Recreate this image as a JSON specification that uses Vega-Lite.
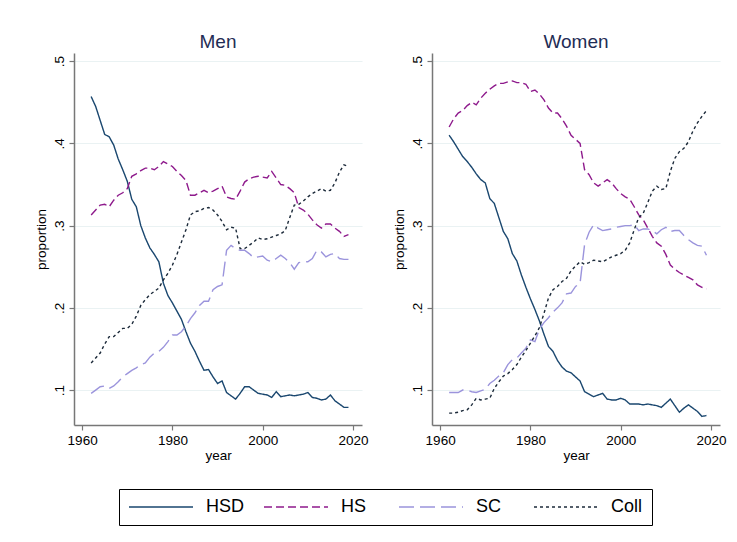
{
"$schema": "https://vega.github.io/schema/vega-lite/v6.json",
"background": "white",
"padding": {"left": 34, "top": 33, "right": 5, "bottom": 5},
"datasets": {"d": [
{"sex":"Men","edu":"HSD","year":1962,"p":0.457},{"sex":"Men","edu":"HSD","year":1963,"p":0.445},{"sex":"Men","edu":"HSD","year":1964,"p":0.428},{"sex":"Men","edu":"HSD","year":1965,"p":0.411},{"sex":"Men","edu":"HSD","year":1966,"p":0.408},{"sex":"Men","edu":"HSD","year":1967,"p":0.398},{"sex":"Men","edu":"HSD","year":1968,"p":0.381},{"sex":"Men","edu":"HSD","year":1969,"p":0.368},{"sex":"Men","edu":"HSD","year":1970,"p":0.354},{"sex":"Men","edu":"HSD","year":1971,"p":0.332},{"sex":"Men","edu":"HSD","year":1972,"p":0.323},{"sex":"Men","edu":"HSD","year":1973,"p":0.300},{"sex":"Men","edu":"HSD","year":1974,"p":0.285},{"sex":"Men","edu":"HSD","year":1975,"p":0.273},{"sex":"Men","edu":"HSD","year":1976,"p":0.265},{"sex":"Men","edu":"HSD","year":1977,"p":0.256},{"sex":"Men","edu":"HSD","year":1978,"p":0.230},{"sex":"Men","edu":"HSD","year":1979,"p":0.215},{"sex":"Men","edu":"HSD","year":1980,"p":0.206},{"sex":"Men","edu":"HSD","year":1981,"p":0.196},{"sex":"Men","edu":"HSD","year":1982,"p":0.186},{"sex":"Men","edu":"HSD","year":1983,"p":0.171},{"sex":"Men","edu":"HSD","year":1984,"p":0.157},{"sex":"Men","edu":"HSD","year":1985,"p":0.147},{"sex":"Men","edu":"HSD","year":1986,"p":0.135},{"sex":"Men","edu":"HSD","year":1987,"p":0.124},{"sex":"Men","edu":"HSD","year":1988,"p":0.125},{"sex":"Men","edu":"HSD","year":1989,"p":0.116},{"sex":"Men","edu":"HSD","year":1990,"p":0.108},{"sex":"Men","edu":"HSD","year":1991,"p":0.111},{"sex":"Men","edu":"HSD","year":1992,"p":0.097},{"sex":"Men","edu":"HSD","year":1993,"p":0.093},{"sex":"Men","edu":"HSD","year":1994,"p":0.089},{"sex":"Men","edu":"HSD","year":1995,"p":0.096},{"sex":"Men","edu":"HSD","year":1996,"p":0.104},{"sex":"Men","edu":"HSD","year":1997,"p":0.104},{"sex":"Men","edu":"HSD","year":1998,"p":0.100},{"sex":"Men","edu":"HSD","year":1999,"p":0.096},{"sex":"Men","edu":"HSD","year":2000,"p":0.095},{"sex":"Men","edu":"HSD","year":2001,"p":0.094},{"sex":"Men","edu":"HSD","year":2002,"p":0.091},{"sex":"Men","edu":"HSD","year":2003,"p":0.098},{"sex":"Men","edu":"HSD","year":2004,"p":0.092},{"sex":"Men","edu":"HSD","year":2005,"p":0.093},{"sex":"Men","edu":"HSD","year":2006,"p":0.094},{"sex":"Men","edu":"HSD","year":2007,"p":0.093},{"sex":"Men","edu":"HSD","year":2008,"p":0.094},{"sex":"Men","edu":"HSD","year":2009,"p":0.095},{"sex":"Men","edu":"HSD","year":2010,"p":0.097},{"sex":"Men","edu":"HSD","year":2011,"p":0.091},{"sex":"Men","edu":"HSD","year":2012,"p":0.090},{"sex":"Men","edu":"HSD","year":2013,"p":0.088},{"sex":"Men","edu":"HSD","year":2014,"p":0.089},{"sex":"Men","edu":"HSD","year":2015,"p":0.094},{"sex":"Men","edu":"HSD","year":2016,"p":0.087},{"sex":"Men","edu":"HSD","year":2017,"p":0.083},{"sex":"Men","edu":"HSD","year":2018,"p":0.079},{"sex":"Men","edu":"HSD","year":2019,"p":0.079},
{"sex":"Men","edu":"HS","year":1962,"p":0.313},{"sex":"Men","edu":"HS","year":1963,"p":0.319},{"sex":"Men","edu":"HS","year":1964,"p":0.325},{"sex":"Men","edu":"HS","year":1965,"p":0.326},{"sex":"Men","edu":"HS","year":1966,"p":0.323},{"sex":"Men","edu":"HS","year":1967,"p":0.331},{"sex":"Men","edu":"HS","year":1968,"p":0.337},{"sex":"Men","edu":"HS","year":1969,"p":0.340},{"sex":"Men","edu":"HS","year":1970,"p":0.345},{"sex":"Men","edu":"HS","year":1971,"p":0.360},{"sex":"Men","edu":"HS","year":1972,"p":0.363},{"sex":"Men","edu":"HS","year":1973,"p":0.367},{"sex":"Men","edu":"HS","year":1974,"p":0.370},{"sex":"Men","edu":"HS","year":1975,"p":0.370},{"sex":"Men","edu":"HS","year":1976,"p":0.368},{"sex":"Men","edu":"HS","year":1977,"p":0.372},{"sex":"Men","edu":"HS","year":1978,"p":0.378},{"sex":"Men","edu":"HS","year":1979,"p":0.375},{"sex":"Men","edu":"HS","year":1980,"p":0.372},{"sex":"Men","edu":"HS","year":1981,"p":0.366},{"sex":"Men","edu":"HS","year":1982,"p":0.361},{"sex":"Men","edu":"HS","year":1983,"p":0.355},{"sex":"Men","edu":"HS","year":1984,"p":0.337},{"sex":"Men","edu":"HS","year":1985,"p":0.337},{"sex":"Men","edu":"HS","year":1986,"p":0.340},{"sex":"Men","edu":"HS","year":1987,"p":0.343},{"sex":"Men","edu":"HS","year":1988,"p":0.340},{"sex":"Men","edu":"HS","year":1989,"p":0.342},{"sex":"Men","edu":"HS","year":1990,"p":0.345},{"sex":"Men","edu":"HS","year":1991,"p":0.348},{"sex":"Men","edu":"HS","year":1992,"p":0.335},{"sex":"Men","edu":"HS","year":1993,"p":0.333},{"sex":"Men","edu":"HS","year":1994,"p":0.332},{"sex":"Men","edu":"HS","year":1995,"p":0.342},{"sex":"Men","edu":"HS","year":1996,"p":0.353},{"sex":"Men","edu":"HS","year":1997,"p":0.357},{"sex":"Men","edu":"HS","year":1998,"p":0.359},{"sex":"Men","edu":"HS","year":1999,"p":0.360},{"sex":"Men","edu":"HS","year":2000,"p":0.359},{"sex":"Men","edu":"HS","year":2001,"p":0.358},{"sex":"Men","edu":"HS","year":2002,"p":0.366},{"sex":"Men","edu":"HS","year":2003,"p":0.358},{"sex":"Men","edu":"HS","year":2004,"p":0.350},{"sex":"Men","edu":"HS","year":2005,"p":0.349},{"sex":"Men","edu":"HS","year":2006,"p":0.345},{"sex":"Men","edu":"HS","year":2007,"p":0.340},{"sex":"Men","edu":"HS","year":2008,"p":0.322},{"sex":"Men","edu":"HS","year":2009,"p":0.319},{"sex":"Men","edu":"HS","year":2010,"p":0.314},{"sex":"Men","edu":"HS","year":2011,"p":0.307},{"sex":"Men","edu":"HS","year":2012,"p":0.301},{"sex":"Men","edu":"HS","year":2013,"p":0.297},{"sex":"Men","edu":"HS","year":2014,"p":0.302},{"sex":"Men","edu":"HS","year":2015,"p":0.302},{"sex":"Men","edu":"HS","year":2016,"p":0.297},{"sex":"Men","edu":"HS","year":2017,"p":0.293},{"sex":"Men","edu":"HS","year":2018,"p":0.287},{"sex":"Men","edu":"HS","year":2019,"p":0.289},
{"sex":"Men","edu":"SC","year":1962,"p":0.096},{"sex":"Men","edu":"SC","year":1963,"p":0.100},{"sex":"Men","edu":"SC","year":1964,"p":0.104},{"sex":"Men","edu":"SC","year":1965,"p":0.105},{"sex":"Men","edu":"SC","year":1966,"p":0.102},{"sex":"Men","edu":"SC","year":1967,"p":0.105},{"sex":"Men","edu":"SC","year":1968,"p":0.110},{"sex":"Men","edu":"SC","year":1969,"p":0.116},{"sex":"Men","edu":"SC","year":1970,"p":0.120},{"sex":"Men","edu":"SC","year":1971,"p":0.124},{"sex":"Men","edu":"SC","year":1972,"p":0.127},{"sex":"Men","edu":"SC","year":1973,"p":0.131},{"sex":"Men","edu":"SC","year":1974,"p":0.133},{"sex":"Men","edu":"SC","year":1975,"p":0.140},{"sex":"Men","edu":"SC","year":1976,"p":0.145},{"sex":"Men","edu":"SC","year":1977,"p":0.147},{"sex":"Men","edu":"SC","year":1978,"p":0.152},{"sex":"Men","edu":"SC","year":1979,"p":0.159},{"sex":"Men","edu":"SC","year":1980,"p":0.167},{"sex":"Men","edu":"SC","year":1981,"p":0.167},{"sex":"Men","edu":"SC","year":1982,"p":0.171},{"sex":"Men","edu":"SC","year":1983,"p":0.178},{"sex":"Men","edu":"SC","year":1984,"p":0.187},{"sex":"Men","edu":"SC","year":1985,"p":0.194},{"sex":"Men","edu":"SC","year":1986,"p":0.203},{"sex":"Men","edu":"SC","year":1987,"p":0.208},{"sex":"Men","edu":"SC","year":1988,"p":0.208},{"sex":"Men","edu":"SC","year":1989,"p":0.222},{"sex":"Men","edu":"SC","year":1990,"p":0.226},{"sex":"Men","edu":"SC","year":1991,"p":0.228},{"sex":"Men","edu":"SC","year":1992,"p":0.270},{"sex":"Men","edu":"SC","year":1993,"p":0.276},{"sex":"Men","edu":"SC","year":1994,"p":0.272},{"sex":"Men","edu":"SC","year":1995,"p":0.270},{"sex":"Men","edu":"SC","year":1996,"p":0.270},{"sex":"Men","edu":"SC","year":1997,"p":0.266},{"sex":"Men","edu":"SC","year":1998,"p":0.261},{"sex":"Men","edu":"SC","year":1999,"p":0.262},{"sex":"Men","edu":"SC","year":2000,"p":0.263},{"sex":"Men","edu":"SC","year":2001,"p":0.258},{"sex":"Men","edu":"SC","year":2002,"p":0.256},{"sex":"Men","edu":"SC","year":2003,"p":0.260},{"sex":"Men","edu":"SC","year":2004,"p":0.264},{"sex":"Men","edu":"SC","year":2005,"p":0.260},{"sex":"Men","edu":"SC","year":2006,"p":0.255},{"sex":"Men","edu":"SC","year":2007,"p":0.247},{"sex":"Men","edu":"SC","year":2008,"p":0.255},{"sex":"Men","edu":"SC","year":2009,"p":0.256},{"sex":"Men","edu":"SC","year":2010,"p":0.256},{"sex":"Men","edu":"SC","year":2011,"p":0.260},{"sex":"Men","edu":"SC","year":2012,"p":0.270},{"sex":"Men","edu":"SC","year":2013,"p":0.268},{"sex":"Men","edu":"SC","year":2014,"p":0.262},{"sex":"Men","edu":"SC","year":2015,"p":0.265},{"sex":"Men","edu":"SC","year":2016,"p":0.266},{"sex":"Men","edu":"SC","year":2017,"p":0.260},{"sex":"Men","edu":"SC","year":2018,"p":0.259},{"sex":"Men","edu":"SC","year":2019,"p":0.259},
{"sex":"Men","edu":"Coll","year":1962,"p":0.133},{"sex":"Men","edu":"Coll","year":1963,"p":0.139},{"sex":"Men","edu":"Coll","year":1964,"p":0.145},{"sex":"Men","edu":"Coll","year":1965,"p":0.156},{"sex":"Men","edu":"Coll","year":1966,"p":0.165},{"sex":"Men","edu":"Coll","year":1967,"p":0.165},{"sex":"Men","edu":"Coll","year":1968,"p":0.170},{"sex":"Men","edu":"Coll","year":1969,"p":0.175},{"sex":"Men","edu":"Coll","year":1970,"p":0.175},{"sex":"Men","edu":"Coll","year":1971,"p":0.180},{"sex":"Men","edu":"Coll","year":1972,"p":0.190},{"sex":"Men","edu":"Coll","year":1973,"p":0.203},{"sex":"Men","edu":"Coll","year":1974,"p":0.210},{"sex":"Men","edu":"Coll","year":1975,"p":0.216},{"sex":"Men","edu":"Coll","year":1976,"p":0.220},{"sex":"Men","edu":"Coll","year":1977,"p":0.224},{"sex":"Men","edu":"Coll","year":1978,"p":0.234},{"sex":"Men","edu":"Coll","year":1979,"p":0.242},{"sex":"Men","edu":"Coll","year":1980,"p":0.252},{"sex":"Men","edu":"Coll","year":1981,"p":0.265},{"sex":"Men","edu":"Coll","year":1982,"p":0.280},{"sex":"Men","edu":"Coll","year":1983,"p":0.295},{"sex":"Men","edu":"Coll","year":1984,"p":0.313},{"sex":"Men","edu":"Coll","year":1985,"p":0.317},{"sex":"Men","edu":"Coll","year":1986,"p":0.318},{"sex":"Men","edu":"Coll","year":1987,"p":0.321},{"sex":"Men","edu":"Coll","year":1988,"p":0.322},{"sex":"Men","edu":"Coll","year":1989,"p":0.319},{"sex":"Men","edu":"Coll","year":1990,"p":0.313},{"sex":"Men","edu":"Coll","year":1991,"p":0.305},{"sex":"Men","edu":"Coll","year":1992,"p":0.295},{"sex":"Men","edu":"Coll","year":1993,"p":0.298},{"sex":"Men","edu":"Coll","year":1994,"p":0.297},{"sex":"Men","edu":"Coll","year":1995,"p":0.272},{"sex":"Men","edu":"Coll","year":1996,"p":0.272},{"sex":"Men","edu":"Coll","year":1997,"p":0.276},{"sex":"Men","edu":"Coll","year":1998,"p":0.280},{"sex":"Men","edu":"Coll","year":1999,"p":0.285},{"sex":"Men","edu":"Coll","year":2000,"p":0.283},{"sex":"Men","edu":"Coll","year":2001,"p":0.284},{"sex":"Men","edu":"Coll","year":2002,"p":0.286},{"sex":"Men","edu":"Coll","year":2003,"p":0.288},{"sex":"Men","edu":"Coll","year":2004,"p":0.290},{"sex":"Men","edu":"Coll","year":2005,"p":0.294},{"sex":"Men","edu":"Coll","year":2006,"p":0.310},{"sex":"Men","edu":"Coll","year":2007,"p":0.325},{"sex":"Men","edu":"Coll","year":2008,"p":0.326},{"sex":"Men","edu":"Coll","year":2009,"p":0.330},{"sex":"Men","edu":"Coll","year":2010,"p":0.335},{"sex":"Men","edu":"Coll","year":2011,"p":0.339},{"sex":"Men","edu":"Coll","year":2012,"p":0.342},{"sex":"Men","edu":"Coll","year":2013,"p":0.345},{"sex":"Men","edu":"Coll","year":2014,"p":0.342},{"sex":"Men","edu":"Coll","year":2015,"p":0.343},{"sex":"Men","edu":"Coll","year":2016,"p":0.352},{"sex":"Men","edu":"Coll","year":2017,"p":0.365},{"sex":"Men","edu":"Coll","year":2018,"p":0.374},{"sex":"Men","edu":"Coll","year":2019,"p":0.372},
{"sex":"Women","edu":"HSD","year":1962,"p":0.410},{"sex":"Women","edu":"HSD","year":1963,"p":0.402},{"sex":"Women","edu":"HSD","year":1964,"p":0.393},{"sex":"Women","edu":"HSD","year":1965,"p":0.384},{"sex":"Women","edu":"HSD","year":1966,"p":0.378},{"sex":"Women","edu":"HSD","year":1967,"p":0.371},{"sex":"Women","edu":"HSD","year":1968,"p":0.363},{"sex":"Women","edu":"HSD","year":1969,"p":0.356},{"sex":"Women","edu":"HSD","year":1970,"p":0.352},{"sex":"Women","edu":"HSD","year":1971,"p":0.333},{"sex":"Women","edu":"HSD","year":1972,"p":0.327},{"sex":"Women","edu":"HSD","year":1973,"p":0.310},{"sex":"Women","edu":"HSD","year":1974,"p":0.293},{"sex":"Women","edu":"HSD","year":1975,"p":0.284},{"sex":"Women","edu":"HSD","year":1976,"p":0.266},{"sex":"Women","edu":"HSD","year":1977,"p":0.257},{"sex":"Women","edu":"HSD","year":1978,"p":0.240},{"sex":"Women","edu":"HSD","year":1979,"p":0.225},{"sex":"Women","edu":"HSD","year":1980,"p":0.211},{"sex":"Women","edu":"HSD","year":1981,"p":0.198},{"sex":"Women","edu":"HSD","year":1982,"p":0.184},{"sex":"Women","edu":"HSD","year":1983,"p":0.168},{"sex":"Women","edu":"HSD","year":1984,"p":0.153},{"sex":"Women","edu":"HSD","year":1985,"p":0.147},{"sex":"Women","edu":"HSD","year":1986,"p":0.136},{"sex":"Women","edu":"HSD","year":1987,"p":0.128},{"sex":"Women","edu":"HSD","year":1988,"p":0.123},{"sex":"Women","edu":"HSD","year":1989,"p":0.121},{"sex":"Women","edu":"HSD","year":1990,"p":0.116},{"sex":"Women","edu":"HSD","year":1991,"p":0.111},{"sex":"Women","edu":"HSD","year":1992,"p":0.098},{"sex":"Women","edu":"HSD","year":1993,"p":0.095},{"sex":"Women","edu":"HSD","year":1994,"p":0.092},{"sex":"Women","edu":"HSD","year":1995,"p":0.094},{"sex":"Women","edu":"HSD","year":1996,"p":0.096},{"sex":"Women","edu":"HSD","year":1997,"p":0.089},{"sex":"Women","edu":"HSD","year":1998,"p":0.088},{"sex":"Women","edu":"HSD","year":1999,"p":0.088},{"sex":"Women","edu":"HSD","year":2000,"p":0.090},{"sex":"Women","edu":"HSD","year":2001,"p":0.088},{"sex":"Women","edu":"HSD","year":2002,"p":0.083},{"sex":"Women","edu":"HSD","year":2003,"p":0.083},{"sex":"Women","edu":"HSD","year":2004,"p":0.083},{"sex":"Women","edu":"HSD","year":2005,"p":0.082},{"sex":"Women","edu":"HSD","year":2006,"p":0.083},{"sex":"Women","edu":"HSD","year":2007,"p":0.082},{"sex":"Women","edu":"HSD","year":2008,"p":0.081},{"sex":"Women","edu":"HSD","year":2009,"p":0.079},{"sex":"Women","edu":"HSD","year":2010,"p":0.084},{"sex":"Women","edu":"HSD","year":2011,"p":0.089},{"sex":"Women","edu":"HSD","year":2012,"p":0.081},{"sex":"Women","edu":"HSD","year":2013,"p":0.073},{"sex":"Women","edu":"HSD","year":2014,"p":0.078},{"sex":"Women","edu":"HSD","year":2015,"p":0.082},{"sex":"Women","edu":"HSD","year":2016,"p":0.078},{"sex":"Women","edu":"HSD","year":2017,"p":0.074},{"sex":"Women","edu":"HSD","year":2018,"p":0.068},{"sex":"Women","edu":"HSD","year":2019,"p":0.069},
{"sex":"Women","edu":"HS","year":1962,"p":0.420},{"sex":"Women","edu":"HS","year":1963,"p":0.430},{"sex":"Women","edu":"HS","year":1964,"p":0.437},{"sex":"Women","edu":"HS","year":1965,"p":0.440},{"sex":"Women","edu":"HS","year":1966,"p":0.446},{"sex":"Women","edu":"HS","year":1967,"p":0.450},{"sex":"Women","edu":"HS","year":1968,"p":0.447},{"sex":"Women","edu":"HS","year":1969,"p":0.455},{"sex":"Women","edu":"HS","year":1970,"p":0.461},{"sex":"Women","edu":"HS","year":1971,"p":0.466},{"sex":"Women","edu":"HS","year":1972,"p":0.470},{"sex":"Women","edu":"HS","year":1973,"p":0.473},{"sex":"Women","edu":"HS","year":1974,"p":0.473},{"sex":"Women","edu":"HS","year":1975,"p":0.475},{"sex":"Women","edu":"HS","year":1976,"p":0.476},{"sex":"Women","edu":"HS","year":1977,"p":0.474},{"sex":"Women","edu":"HS","year":1978,"p":0.474},{"sex":"Women","edu":"HS","year":1979,"p":0.472},{"sex":"Women","edu":"HS","year":1980,"p":0.463},{"sex":"Women","edu":"HS","year":1981,"p":0.465},{"sex":"Women","edu":"HS","year":1982,"p":0.460},{"sex":"Women","edu":"HS","year":1983,"p":0.453},{"sex":"Women","edu":"HS","year":1984,"p":0.443},{"sex":"Women","edu":"HS","year":1985,"p":0.437},{"sex":"Women","edu":"HS","year":1986,"p":0.437},{"sex":"Women","edu":"HS","year":1987,"p":0.430},{"sex":"Women","edu":"HS","year":1988,"p":0.421},{"sex":"Women","edu":"HS","year":1989,"p":0.410},{"sex":"Women","edu":"HS","year":1990,"p":0.405},{"sex":"Women","edu":"HS","year":1991,"p":0.400},{"sex":"Women","edu":"HS","year":1992,"p":0.368},{"sex":"Women","edu":"HS","year":1993,"p":0.362},{"sex":"Women","edu":"HS","year":1994,"p":0.352},{"sex":"Women","edu":"HS","year":1995,"p":0.348},{"sex":"Women","edu":"HS","year":1996,"p":0.352},{"sex":"Women","edu":"HS","year":1997,"p":0.356},{"sex":"Women","edu":"HS","year":1998,"p":0.352},{"sex":"Women","edu":"HS","year":1999,"p":0.345},{"sex":"Women","edu":"HS","year":2000,"p":0.339},{"sex":"Women","edu":"HS","year":2001,"p":0.335},{"sex":"Women","edu":"HS","year":2002,"p":0.332},{"sex":"Women","edu":"HS","year":2003,"p":0.323},{"sex":"Women","edu":"HS","year":2004,"p":0.313},{"sex":"Women","edu":"HS","year":2005,"p":0.307},{"sex":"Women","edu":"HS","year":2006,"p":0.297},{"sex":"Women","edu":"HS","year":2007,"p":0.287},{"sex":"Women","edu":"HS","year":2008,"p":0.279},{"sex":"Women","edu":"HS","year":2009,"p":0.275},{"sex":"Women","edu":"HS","year":2010,"p":0.265},{"sex":"Women","edu":"HS","year":2011,"p":0.252},{"sex":"Women","edu":"HS","year":2012,"p":0.247},{"sex":"Women","edu":"HS","year":2013,"p":0.243},{"sex":"Women","edu":"HS","year":2014,"p":0.240},{"sex":"Women","edu":"HS","year":2015,"p":0.237},{"sex":"Women","edu":"HS","year":2016,"p":0.234},{"sex":"Women","edu":"HS","year":2017,"p":0.228},{"sex":"Women","edu":"HS","year":2018,"p":0.225},{"sex":"Women","edu":"HS","year":2019,"p":0.223},
{"sex":"Women","edu":"SC","year":1962,"p":0.097},{"sex":"Women","edu":"SC","year":1963,"p":0.097},{"sex":"Women","edu":"SC","year":1964,"p":0.097},{"sex":"Women","edu":"SC","year":1965,"p":0.100},{"sex":"Women","edu":"SC","year":1966,"p":0.100},{"sex":"Women","edu":"SC","year":1967,"p":0.098},{"sex":"Women","edu":"SC","year":1968,"p":0.097},{"sex":"Women","edu":"SC","year":1969,"p":0.099},{"sex":"Women","edu":"SC","year":1970,"p":0.101},{"sex":"Women","edu":"SC","year":1971,"p":0.108},{"sex":"Women","edu":"SC","year":1972,"p":0.112},{"sex":"Women","edu":"SC","year":1973,"p":0.117},{"sex":"Women","edu":"SC","year":1974,"p":0.121},{"sex":"Women","edu":"SC","year":1975,"p":0.131},{"sex":"Women","edu":"SC","year":1976,"p":0.137},{"sex":"Women","edu":"SC","year":1977,"p":0.139},{"sex":"Women","edu":"SC","year":1978,"p":0.145},{"sex":"Women","edu":"SC","year":1979,"p":0.151},{"sex":"Women","edu":"SC","year":1980,"p":0.161},{"sex":"Women","edu":"SC","year":1981,"p":0.159},{"sex":"Women","edu":"SC","year":1982,"p":0.174},{"sex":"Women","edu":"SC","year":1983,"p":0.182},{"sex":"Women","edu":"SC","year":1984,"p":0.188},{"sex":"Women","edu":"SC","year":1985,"p":0.195},{"sex":"Women","edu":"SC","year":1986,"p":0.200},{"sex":"Women","edu":"SC","year":1987,"p":0.206},{"sex":"Women","edu":"SC","year":1988,"p":0.217},{"sex":"Women","edu":"SC","year":1989,"p":0.218},{"sex":"Women","edu":"SC","year":1990,"p":0.226},{"sex":"Women","edu":"SC","year":1991,"p":0.230},{"sex":"Women","edu":"SC","year":1992,"p":0.277},{"sex":"Women","edu":"SC","year":1993,"p":0.292},{"sex":"Women","edu":"SC","year":1994,"p":0.301},{"sex":"Women","edu":"SC","year":1995,"p":0.297},{"sex":"Women","edu":"SC","year":1996,"p":0.294},{"sex":"Women","edu":"SC","year":1997,"p":0.295},{"sex":"Women","edu":"SC","year":1998,"p":0.296},{"sex":"Women","edu":"SC","year":1999,"p":0.298},{"sex":"Women","edu":"SC","year":2000,"p":0.299},{"sex":"Women","edu":"SC","year":2001,"p":0.300},{"sex":"Women","edu":"SC","year":2002,"p":0.300},{"sex":"Women","edu":"SC","year":2003,"p":0.301},{"sex":"Women","edu":"SC","year":2004,"p":0.294},{"sex":"Women","edu":"SC","year":2005,"p":0.296},{"sex":"Women","edu":"SC","year":2006,"p":0.296},{"sex":"Women","edu":"SC","year":2007,"p":0.294},{"sex":"Women","edu":"SC","year":2008,"p":0.290},{"sex":"Women","edu":"SC","year":2009,"p":0.295},{"sex":"Women","edu":"SC","year":2010,"p":0.298},{"sex":"Women","edu":"SC","year":2011,"p":0.293},{"sex":"Women","edu":"SC","year":2012,"p":0.294},{"sex":"Women","edu":"SC","year":2013,"p":0.294},{"sex":"Women","edu":"SC","year":2014,"p":0.288},{"sex":"Women","edu":"SC","year":2015,"p":0.283},{"sex":"Women","edu":"SC","year":2016,"p":0.279},{"sex":"Women","edu":"SC","year":2017,"p":0.276},{"sex":"Women","edu":"SC","year":2018,"p":0.275},{"sex":"Women","edu":"SC","year":2019,"p":0.264},
{"sex":"Women","edu":"Coll","year":1962,"p":0.072},{"sex":"Women","edu":"Coll","year":1963,"p":0.072},{"sex":"Women","edu":"Coll","year":1964,"p":0.073},{"sex":"Women","edu":"Coll","year":1965,"p":0.075},{"sex":"Women","edu":"Coll","year":1966,"p":0.076},{"sex":"Women","edu":"Coll","year":1967,"p":0.082},{"sex":"Women","edu":"Coll","year":1968,"p":0.090},{"sex":"Women","edu":"Coll","year":1969,"p":0.088},{"sex":"Women","edu":"Coll","year":1970,"p":0.089},{"sex":"Women","edu":"Coll","year":1971,"p":0.090},{"sex":"Women","edu":"Coll","year":1972,"p":0.102},{"sex":"Women","edu":"Coll","year":1973,"p":0.110},{"sex":"Women","edu":"Coll","year":1974,"p":0.117},{"sex":"Women","edu":"Coll","year":1975,"p":0.120},{"sex":"Women","edu":"Coll","year":1976,"p":0.125},{"sex":"Women","edu":"Coll","year":1977,"p":0.131},{"sex":"Women","edu":"Coll","year":1978,"p":0.140},{"sex":"Women","edu":"Coll","year":1979,"p":0.148},{"sex":"Women","edu":"Coll","year":1980,"p":0.157},{"sex":"Women","edu":"Coll","year":1981,"p":0.166},{"sex":"Women","edu":"Coll","year":1982,"p":0.176},{"sex":"Women","edu":"Coll","year":1983,"p":0.193},{"sex":"Women","edu":"Coll","year":1984,"p":0.212},{"sex":"Women","edu":"Coll","year":1985,"p":0.222},{"sex":"Women","edu":"Coll","year":1986,"p":0.226},{"sex":"Women","edu":"Coll","year":1987,"p":0.232},{"sex":"Women","edu":"Coll","year":1988,"p":0.236},{"sex":"Women","edu":"Coll","year":1989,"p":0.245},{"sex":"Women","edu":"Coll","year":1990,"p":0.251},{"sex":"Women","edu":"Coll","year":1991,"p":0.256},{"sex":"Women","edu":"Coll","year":1992,"p":0.253},{"sex":"Women","edu":"Coll","year":1993,"p":0.255},{"sex":"Women","edu":"Coll","year":1994,"p":0.258},{"sex":"Women","edu":"Coll","year":1995,"p":0.257},{"sex":"Women","edu":"Coll","year":1996,"p":0.256},{"sex":"Women","edu":"Coll","year":1997,"p":0.259},{"sex":"Women","edu":"Coll","year":1998,"p":0.262},{"sex":"Women","edu":"Coll","year":1999,"p":0.264},{"sex":"Women","edu":"Coll","year":2000,"p":0.266},{"sex":"Women","edu":"Coll","year":2001,"p":0.270},{"sex":"Women","edu":"Coll","year":2002,"p":0.279},{"sex":"Women","edu":"Coll","year":2003,"p":0.295},{"sex":"Women","edu":"Coll","year":2004,"p":0.310},{"sex":"Women","edu":"Coll","year":2005,"p":0.315},{"sex":"Women","edu":"Coll","year":2006,"p":0.328},{"sex":"Women","edu":"Coll","year":2007,"p":0.342},{"sex":"Women","edu":"Coll","year":2008,"p":0.348},{"sex":"Women","edu":"Coll","year":2009,"p":0.344},{"sex":"Women","edu":"Coll","year":2010,"p":0.345},{"sex":"Women","edu":"Coll","year":2011,"p":0.366},{"sex":"Women","edu":"Coll","year":2012,"p":0.382},{"sex":"Women","edu":"Coll","year":2013,"p":0.390},{"sex":"Women","edu":"Coll","year":2014,"p":0.394},{"sex":"Women","edu":"Coll","year":2015,"p":0.402},{"sex":"Women","edu":"Coll","year":2016,"p":0.415},{"sex":"Women","edu":"Coll","year":2017,"p":0.425},{"sex":"Women","edu":"Coll","year":2018,"p":0.433},{"sex":"Women","edu":"Coll","year":2019,"p":0.440}
]},
"data": {"name": "d"},
"facet": {"column": {"field": "sex", "type": "nominal", "sort": ["Men", "Women"],
  "header": {"title": null, "labelFontSize": 19, "labelColor": "#1f2d55", "labelFont": "Liberation Sans", "labelPadding": 1}}},
"spacing": 30,
"resolve": {"axis": {"y": "independent"}},
"spec": {
  "width": 288,
  "height": 372,
  "mark": {"type": "line", "strokeWidth": 1.4, "clip": true},
  "encoding": {
    "x": {"field": "year", "type": "quantitative",
      "scale": {"domain": [1958.2, 2022], "nice": false, "zero": false},
      "axis": {"values": [1960, 1980, 2000, 2020], "format": "d", "grid": false, "title": "year", "titlePadding": 2}},
    "y": {"field": "p", "type": "quantitative",
      "scale": {"domain": [0.0575, 0.51], "nice": false, "zero": false},
      "axis": {"values": [0.1, 0.2, 0.3, 0.4, 0.5], "labelExpr": "replace(format(datum.value, '.1f'), '0.', '.')", "labelAngle": -90, "labelAlign": "center", "labelBaseline": "bottom", "grid": true, "title": "proportion"}},
    "color": {"field": "edu", "type": "nominal",
      "scale": {"domain": ["HSD", "HS", "SC", "Coll"], "range": ["#1a476f", "#8e1a8c", "#9b94dc", "#1c2a3a"]},
      "legend": {"title": null}},
    "strokeDash": {"field": "edu", "type": "nominal",
      "scale": {"domain": ["HSD", "HS", "SC", "Coll"], "range": [[1, 0], [8, 4], [15, 6], [3, 3]]},
      "legend": {"title": null}}
  }
},
"config": {
  "font": "Liberation Sans",
  "view": {"stroke": null},
  "axis": {"labelFont": "Liberation Sans", "titleFont": "Liberation Sans", "labelFontSize": 13.5, "titleFontSize": 13.5, "labelColor": "#000", "titleColor": "#000", "titleFontWeight": "normal", "domainColor": "#777", "domainWidth": 1.5, "tickColor": "#777", "tickWidth": 1.2, "tickSize": 5, "gridColor": "#eaf2f3", "gridWidth": 1.2, "labelPadding": 3, "titlePadding": 4},
  "legend": {"orient": "none", "legendX": 45, "legendY": 436, "direction": "horizontal", "gridAlign": "all", "symbolType": "M-1,0H7", "symbolSize": 256, "symbolStrokeWidth": 1.4, "symbolFillColor": "transparent", "labelFontSize": 18, "labelFont": "Liberation Sans", "labelColor": "#000", "labelOffset": 60, "columnPadding": 16, "strokeColor": "#000", "padding": 9}
}
}
